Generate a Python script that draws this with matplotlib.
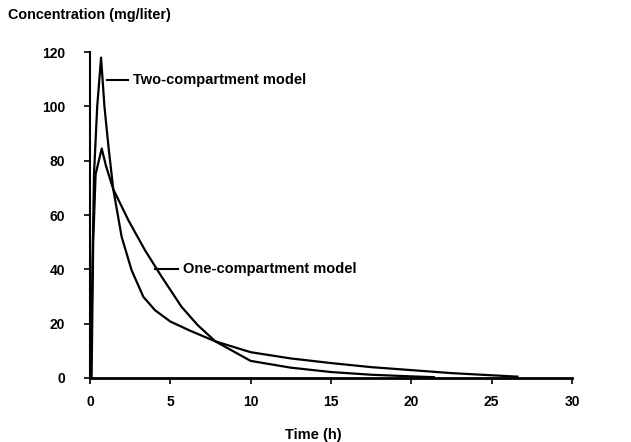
import matplotlib
matplotlib.use("Agg")
import matplotlib.pyplot as plt
from matplotlib import font_manager

names = {f.name for f in font_manager.fontManager.ttflist}
fam = ['Liberation Sans Narrow', 'Liberation Sans', 'DejaVu Sans'] if 'Liberation Sans Narrow' in names else ['Liberation Sans', 'DejaVu Sans']
plt.rcParams['font.family'] = fam
plt.rcParams['font.weight'] = 'bold'

# Two-compartment model
t_two = [0.05, 0.15, 0.25, 0.45, 0.69, 0.9, 1.14, 1.45, 1.97, 2.59, 3.32, 4.04, 5.0, 6.2, 7.8, 10.0, 12.5, 15.0, 17.5, 20.0, 22.5, 25.0, 26.6]
c_two = [0.0, 40.0, 75.0, 100.0, 118.0, 100.0, 85.8, 69.5, 52.0, 39.7, 29.9, 25.0, 20.8, 17.5, 13.5, 9.5, 7.2, 5.5, 4.0, 2.9, 1.8, 1.0, 0.5]

# One-compartment model
t_one = [0.1, 0.2, 0.35, 0.73, 1.0, 1.45, 2.39, 3.42, 4.46, 5.7, 6.7, 7.8, 10.0, 12.5, 15.0, 17.5, 20.0, 21.4]
c_one = [0.0, 50.0, 75.0, 84.5, 78.0, 69.5, 58.1, 47.1, 37.3, 26.2, 19.5, 13.5, 6.3, 3.8, 2.2, 1.2, 0.6, 0.3]

x_ticks = [0, 5, 10, 15, 20, 25, 30]
y_ticks = [0, 20, 40, 60, 80, 100, 120]

fig = plt.figure(figsize=(6.31, 4.42), dpi=100)
ax = fig.add_axes([0.1426, 0.1448, 0.9065 - 0.1426, 0.882 - 0.1448])

ax.plot(t_two, c_two, color='black', lw=1.6, clip_on=False)
ax.plot(t_one, c_one, color='black', lw=1.6, clip_on=False)

ax.set_xlim(0, 30)
ax.set_ylim(0, 120)
ax.set_xticks(x_ticks)
ax.set_yticks(y_ticks)
ax.spines['top'].set_visible(False)
ax.spines['right'].set_visible(False)
ax.spines['left'].set_linewidth(1.5)
ax.spines['bottom'].set_linewidth(2.0)
ax.tick_params(axis='both', direction='out', length=4, width=1.2, labelsize=10, pad=8)
ax.tick_params(axis='y', pad=14)
for lab in ax.get_xticklabels() + ax.get_yticklabels():
    lab.set_fontweight('bold')

# annotations
ax.plot([1.06, 2.37], [109.7, 109.7], color='black', lw=1.5)
ax.text(2.68, 109.7, 'Two-compartment model', fontsize=10.5, fontweight='bold', va='center', ha='left')
ax.plot([4.04, 5.5], [40, 40], color='black', lw=1.5)
ax.text(5.8, 40, 'One-compartment model', fontsize=10.5, fontweight='bold', va='center', ha='left')

fig.text(8 / 631, 1 - 15 / 442, 'Concentration (mg/liter)', fontsize=10.4, fontweight='bold', ha='left', va='center')
fig.text(313 / 631, 1 - 435 / 442, 'Time (h)', fontsize=10.5, fontweight='bold', ha='center', va='center')

fig.savefig('out.png', dpi=100)
